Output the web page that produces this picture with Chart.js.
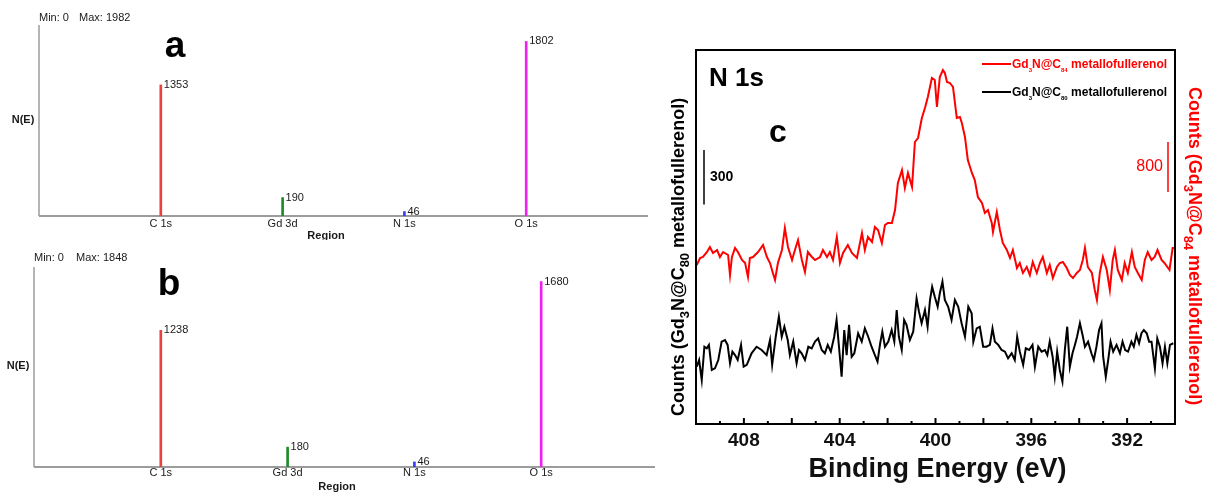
<!DOCTYPE html>
<html>
<head>
<meta charset="utf-8">
<title>XPS survey and N 1s</title>
<script src="https://cdn.jsdelivr.net/npm/chart.js@4"></script>
<style>
  html, body { margin: 0; padding: 0; background: #fff; }
  body { width: 1207px; height: 493px; position: relative; overflow: hidden; }
  canvas { position: absolute; }
  #surveyA { left: 0; top: 0; }
  #surveyB { left: 0; top: 240px; }
  #n1s { left: 660px; top: 0; }
</style>
</head>
<body>
<canvas id="surveyA" width="660" height="240"></canvas>
<canvas id="surveyB" width="680" height="253"></canvas>
<canvas id="n1s" width="547" height="493"></canvas>
<script>
// survey regions (panels a and b)
const regions = ['C 1s', 'Gd 3d', 'N 1s', 'O 1s'];
const countsA = [1353, 190, 46, 1802];
const countsB = [1238, 180, 46, 1680];
const maxA = 1982;
const maxB = 1848;

// N 1s high resolution, Gd3N@C84 metallofullerenol (red)
const energyC84 = [409.97,409.83,409.71,409.54,409.42,409.29,409.12,409.00,408.87,408.66,
  408.58,408.50,408.37,408.25,408.08,407.95,407.83,407.75,407.62,407.41,
  407.20,407.04,406.91,406.79,406.70,406.58,406.41,406.29,406.16,405.99,
  405.87,405.74,405.58,405.45,405.33,405.16,405.03,404.82,404.70,404.53,
  404.41,404.28,404.12,403.99,403.86,403.66,403.49,403.28,403.07,402.95,
  402.82,402.65,402.53,402.40,402.24,402.11,401.99,401.82,401.69,401.57,
  401.40,401.28,401.15,400.98,400.86,400.73,400.57,400.44,400.32,400.15,
  400.03,399.94,399.82,399.69,399.61,399.52,399.40,399.27,399.11,398.98,
  398.90,398.77,398.65,398.48,398.36,398.23,398.06,397.94,397.81,397.65,
  397.60,397.44,397.31,397.19,397.02,396.89,396.77,396.60,396.48,396.35,
  396.19,396.06,395.94,395.77,395.64,395.52,395.35,395.23,395.10,394.93,
  394.81,394.68,394.52,394.39,394.26,394.10,393.97,393.85,393.76,393.64,
  393.47,393.35,393.26,393.14,393.01,392.85,392.72,392.60,392.51,392.39,
  392.22,392.10,391.97,391.80,391.68,391.55,391.39,391.26,391.14,390.98,
  390.85,390.73,390.56,390.44,390.23,390.10,390.00];
const countsC84 = [4560,4672,4688,4768,4848,4752,4800,4688,4768,4720,
  4400,4688,4832,4768,4640,4592,4368,4672,4688,4768,
  4880,4688,4592,4432,4320,4592,4800,5152,4848,4640,
  4800,4960,4640,4448,4768,4688,4640,4688,4800,4688,
  4768,4640,5008,4592,4752,4880,4752,4672,5072,4800,
  5008,4928,5168,5120,4912,5200,5232,5232,5440,5872,
  6080,5792,6032,5808,6528,6592,6912,7072,7248,7552,
  7520,7088,7568,7680,7632,7488,7472,7408,6912,6928,
  6832,6608,6240,6032,5920,5648,5552,5392,5440,5232,
  5088,5408,5120,4912,4800,4672,4800,4512,4592,4432,
  4528,4400,4608,4432,4592,4688,4432,4560,4352,4528,
  4592,4608,4512,4400,4352,4432,4480,4640,4832,4528,
  4432,4160,4000,4432,4688,4480,4160,4640,4800,4480,
  4320,4592,4432,4768,4528,4432,4320,4640,4768,4640,
  4688,4800,4640,4592,4480,4832,4832];

// N 1s high resolution, Gd3N@C80 metallofullerenol (black)
const energyC80 = [409.97,409.87,409.76,409.65,409.55,409.46,409.34,409.21,409.07,408.93,
  408.79,408.68,408.58,408.48,408.37,408.26,408.12,408.01,407.88,407.68,
  407.47,407.26,407.05,406.91,406.82,406.67,406.54,406.42,406.31,406.17,
  406.08,405.94,405.80,405.70,405.59,405.45,405.31,405.17,405.03,404.90,
  404.75,404.62,404.50,404.37,404.23,404.13,404.03,403.92,403.81,403.71,
  403.61,403.50,403.39,403.23,403.08,402.95,402.81,402.67,402.53,402.42,
  402.31,402.22,402.11,401.97,401.83,401.72,401.62,401.53,401.41,401.31,
  401.21,401.07,400.93,400.79,400.69,400.58,400.44,400.33,400.23,400.14,
  400.03,399.91,399.82,399.71,399.61,399.47,399.33,399.19,399.05,398.91,
  398.77,398.63,398.49,398.42,398.28,398.15,398.01,397.87,397.73,397.62,
  397.52,397.38,397.24,397.10,396.97,396.82,396.69,396.59,396.48,396.34,
  396.23,396.09,395.95,395.85,395.71,395.57,395.43,395.33,395.23,395.11,
  395.02,394.92,394.81,394.70,394.60,394.50,394.39,394.28,394.18,394.09,
  393.97,393.86,393.76,393.63,393.49,393.39,393.28,393.17,393.07,393.00,
  392.89,392.79,392.69,392.58,392.44,392.30,392.19,392.08,391.96,391.82,
  391.72,391.61,391.50,391.40,391.30,391.18,391.08,390.98,390.84,390.74,
  390.63,390.52,390.42,390.32,390.21,390.07];
const countsC80 = [1258,1295,1185,1368,1359,1378,1240,1249,1295,1396,
  1405,1378,1277,1341,1322,1295,1378,1258,1268,1332,
  1368,1350,1322,1405,1268,1423,1533,1423,1478,1405,
  1322,1396,1277,1350,1332,1295,1368,1359,1396,1414,
  1350,1332,1378,1341,1423,1515,1368,1203,1460,1322,
  1488,1313,1332,1442,1396,1469,1423,1368,1322,1286,
  1387,1451,1368,1396,1460,1396,1570,1423,1350,1515,
  1488,1405,1451,1634,1561,1497,1570,1478,1625,1698,
  1643,1588,1662,1726,1625,1588,1515,1625,1588,1497,
  1423,1588,1552,1396,1469,1478,1368,1368,1378,1469,
  1396,1378,1350,1341,1304,1332,1295,1423,1341,1268,
  1359,1350,1378,1258,1368,1341,1350,1322,1396,1313,
  1203,1341,1240,1176,1350,1478,1258,1332,1378,1423,
  1497,1433,1368,1396,1332,1295,1368,1460,1497,1313,
  1203,1295,1396,1341,1378,1332,1396,1350,1341,1396,
  1368,1433,1387,1442,1460,1442,1396,1396,1249,1414,
  1368,1277,1368,1277,1378,1387];

const energyTicks = [408, 404, 400, 396, 392];
const scaleBarC80 = [2150, 2450];
const scaleBarC84 = [5730, 6530];

const SANS = '"Liberation Sans", Arial, Helvetica, sans-serif';
Chart.defaults.font.family = SANS;

const regionColors = ['#e8413f', '#1f8a2a', '#3a3aff', '#ee22ee'];

function surveyDecor(o) {
  return {
    id: 'surveyDecor',
    beforeDatasetsDraw(chart) {
      const { ctx, chartArea: a } = chart;
      ctx.save();
      ctx.strokeStyle = '#b4b4b4';
      ctx.lineWidth = 2;
      ctx.beginPath();
      ctx.moveTo(a.left, o.axisTop);
      ctx.lineTo(a.left, a.bottom);
      ctx.stroke();
      ctx.strokeStyle = '#9c9c9c';
      ctx.beginPath();
      ctx.moveTo(a.left, a.bottom);
      ctx.lineTo(o.axisRight, a.bottom);
      ctx.stroke();
      ctx.restore();
    },
    afterDatasetsDraw(chart) {
      const { ctx, scales } = chart;
      ctx.save();
      ctx.fillStyle = '#1a1a1a';
      ctx.font = '11px ' + SANS;
      ctx.textBaseline = 'middle';
      ctx.textAlign = 'center';
      regions.forEach((r, i) => {
        ctx.fillText(r, scales.x.getPixelForValue(i + 1), o.tickY);
      });
      ctx.textAlign = 'left';
      o.counts.forEach((v, i) => {
        ctx.fillText(String(v), scales.x.getPixelForValue(i + 1) + 3, scales.y.getPixelForValue(v));
      });
      ctx.fillText('Min: 0', o.minX, o.minY);
      ctx.fillText('Max: ' + o.max, o.maxX, o.minY);
      ctx.font = 'bold 11px ' + SANS;
      ctx.textAlign = 'center';
      ctx.fillText('Region', o.regionX, o.regionY);
      ctx.fillText('N(E)', o.neX, o.neY);
      ctx.fillStyle = '#000';
      ctx.font = 'bold 37px ' + SANS;
      ctx.textBaseline = 'alphabetic';
      ctx.fillText(o.letter, o.letterX, o.letterY);
      ctx.restore();
    }
  };
}

function surveyChart(id, counts, max, o) {
  o.counts = counts;
  o.max = max;
  return new Chart(document.getElementById(id), {
    type: 'bar',
    data: {
      datasets: [{
        data: counts.map((v, i) => ({ x: i + 1, y: v })),
        backgroundColor: regionColors,
        barThickness: 2
      }]
    },
    options: {
      responsive: false,
      animation: false,
      layout: { padding: o.pad },
      plugins: { legend: { display: false }, tooltip: { enabled: false } },
      scales: {
        x: { type: 'linear', min: 0, max: 5, offset: false, display: false },
        y: { min: 0, max: max, display: false }
      }
    },
    plugins: [surveyDecor(o)]
  });
}

surveyChart('surveyA', countsA, maxA, {
  pad: { left: 39, right: 12, top: 24, bottom: 24 },
  axisTop: 25, axisRight: 648, tickY: 224,
  regionX: 326, regionY: 236, neX: 23, neY: 120,
  minX: 39, maxX: 79, minY: 18,
  letter: 'a', letterX: 175, letterY: 57
});

surveyChart('surveyB', countsB, maxB, {
  pad: { left: 34, right: 12, top: 23, bottom: 26 },
  axisTop: 27, axisRight: 655, tickY: 233,
  regionX: 337, regionY: 247, neX: 18, neY: 126,
  minX: 34, maxX: 76, minY: 18,
  letter: 'b', letterX: 169, letterY: 55
});

// text with subscripts: parts = [[text, isSub], ...]
function richWidth(ctx, parts, size, weight, subSize) {
  let w = 0;
  parts.forEach(p => {
    ctx.font = `${weight} ${p[1] ? (subSize || Math.round(size * 0.7)) : size}px ${SANS}`;
    w += ctx.measureText(p[0]).width;
  });
  return w;
}
function richText(ctx, parts, x, y, size, weight, subSize) {
  let cx = x;
  ctx.textAlign = 'left';
  ctx.textBaseline = 'alphabetic';
  parts.forEach(p => {
    const s = p[1] ? (subSize || Math.round(size * 0.7)) : size;
    ctx.font = `${weight} ${s}px ${SANS}`;
    ctx.fillText(p[0], cx, y + (p[1] ? size * 0.3 : 0));
    cx += ctx.measureText(p[0]).width;
  });
}

const titleC80 = [['Counts (Gd', 0], ['3', 1], ['N@C', 0], ['80', 1], [' metallofullerenol)', 0]];
const titleC84 = [['Counts (Gd', 0], ['3', 1], ['N@C', 0], ['84', 1], [' metallofullerenol)', 0]];
const legendC84 = [['Gd', 0], ['3', 1], ['N@C', 0], ['84', 1], [' metallofullerenol', 0]];
const legendC80 = [['Gd', 0], ['3', 1], ['N@C', 0], ['80', 1], [' metallofullerenol', 0]];

const n1sDecor = {
  id: 'n1sDecor',
  afterDraw(chart) {
    const { ctx, chartArea: a, scales } = chart;
    const x = scales.x, yb = scales.yC80, yr = scales.yC84;
    ctx.save();
    ctx.strokeStyle = '#000';
    ctx.lineWidth = 2;
    ctx.strokeRect(a.left, a.top, a.right - a.left, a.bottom - a.top);
    // inward ticks on the energy axis
    for (let e = 391; e <= 409; e++) {
      const px = x.getPixelForValue(e);
      ctx.beginPath();
      ctx.moveTo(px, a.bottom);
      ctx.lineTo(px, a.bottom - (e % 2 === 0 ? 6 : 3));
      ctx.stroke();
    }
    ctx.fillStyle = '#111';
    ctx.font = 'bold 19px ' + SANS;
    ctx.textAlign = 'center';
    ctx.textBaseline = 'middle';
    energyTicks.forEach(e => ctx.fillText(String(e), x.getPixelForValue(e), 441));
    ctx.font = 'bold 27px ' + SANS;
    ctx.fillText('Binding Energy (eV)', (a.left + a.right) / 2 + 2, 470);

    ctx.fillStyle = '#000';
    ctx.textAlign = 'left';
    ctx.textBaseline = 'alphabetic';
    ctx.font = 'bold 26px ' + SANS;
    ctx.fillText('N 1s', 49, 86);
    ctx.font = 'bold 32px ' + SANS;
    ctx.fillText('c', 109, 142);

    // intensity scale bars
    const bx = a.left + 8;
    ctx.lineWidth = 1.5;
    ctx.strokeStyle = '#000';
    ctx.beginPath();
    ctx.moveTo(bx, yb.getPixelForValue(scaleBarC80[0]));
    ctx.lineTo(bx, yb.getPixelForValue(scaleBarC80[1]));
    ctx.stroke();
    ctx.font = 'bold 14px ' + SANS;
    ctx.textBaseline = 'middle';
    ctx.fillText(String(scaleBarC80[1] - scaleBarC80[0]), bx + 6,
      yb.getPixelForValue((scaleBarC80[0] + scaleBarC80[1]) / 2));

    const rx = a.right - 7;
    ctx.strokeStyle = '#ff0000';
    ctx.fillStyle = '#ff0000';
    ctx.beginPath();
    ctx.moveTo(rx, yr.getPixelForValue(scaleBarC84[0]));
    ctx.lineTo(rx, yr.getPixelForValue(scaleBarC84[1]));
    ctx.stroke();
    ctx.font = '16px ' + SANS;
    ctx.textAlign = 'right';
    ctx.fillText(String(scaleBarC84[1] - scaleBarC84[0]), rx - 5,
      yr.getPixelForValue((scaleBarC84[0] + scaleBarC84[1]) / 2));

    // legend
    const items = [[legendC84, '#ff0000', 64], [legendC80, '#000', 92]];
    items.forEach(([parts, col, ly]) => {
      ctx.strokeStyle = col;
      ctx.fillStyle = col;
      ctx.lineWidth = 2;
      ctx.beginPath();
      ctx.moveTo(322, ly);
      ctx.lineTo(351, ly);
      ctx.stroke();
      richText(ctx, parts, 352, ly + 4, 12, 'bold', 6);
    });

    // rotated axis titles
    ctx.fillStyle = '#000';
    ctx.translate(18, 257);
    ctx.rotate(-Math.PI / 2);
    let w = richWidth(ctx, titleC80, 18, 'bold');
    richText(ctx, titleC80, -w / 2, 6, 18, 'bold');
    ctx.setTransform(1, 0, 0, 1, 0, 0);
    ctx.fillStyle = '#ff0000';
    ctx.translate(535, 246);
    ctx.rotate(Math.PI / 2);
    w = richWidth(ctx, titleC84, 18, 'bold');
    richText(ctx, titleC84, -w / 2, 6, 18, 'bold');
    ctx.restore();
  }
};

new Chart(document.getElementById('n1s'), {
  type: 'line',
  data: {
    datasets: [
      {
        label: 'Gd3N@C84 metallofullerenol',
        data: energyC84.map((e, i) => ({ x: e, y: countsC84[i] })),
        yAxisID: 'yC84',
        borderColor: '#ff0000',
        borderWidth: 2,
        pointRadius: 0,
        tension: 0
      },
      {
        label: 'Gd3N@C80 metallofullerenol',
        data: energyC80.map((e, i) => ({ x: e, y: countsC80[i] })),
        yAxisID: 'yC80',
        borderColor: '#000000',
        borderWidth: 2,
        pointRadius: 0,
        tension: 0
      }
    ]
  },
  options: {
    responsive: false,
    animation: false,
    layout: { padding: { left: 36, right: 32, top: 50, bottom: 69 } },
    plugins: { legend: { display: false }, tooltip: { enabled: false } },
    scales: {
      x: { type: 'linear', min: 390, max: 410, reverse: true, display: false },
      yC80: { min: 943, max: 3000, display: false },
      yC84: { min: 2016, max: 8000, display: false }
    }
  },
  plugins: [n1sDecor]
});
</script>
</body>
</html>
